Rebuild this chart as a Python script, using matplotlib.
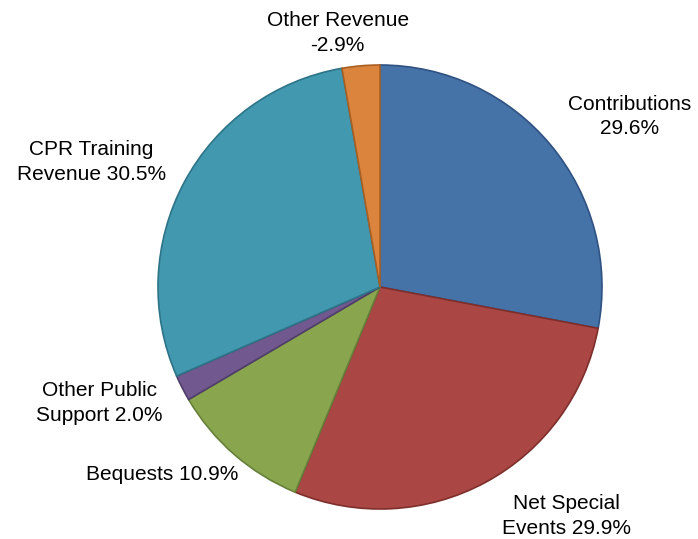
import matplotlib.pyplot as plt
import numpy as np

labels = ["Contributions\n29.6%", "Net Special\nEvents 29.9%", "Bequests 10.9%",
          "Other Public\nSupport 2.0%", "CPR Training\nRevenue 30.5%", "Other Revenue\n-2.9%"]
values = [29.6, 29.9, 10.9, 2.0, 30.5, -2.9]
colors = ["#4572A7", "#AA4643", "#89A54E", "#71588F", "#4198AF", "#DB843D"]
edges = ["#2F5283", "#7E2F2C", "#66803A", "#4F3D6A", "#2D7488", "#A95F22"]

# label placement: (radius factor, angle offset from wedge middle in degrees)
label_pos = [(1.362, -5.4), (1.329, 10.7), (1.296, -8.2),
             (1.369, -4.6), (1.418, 4.85), (1.160, 4.5)]

plt.rcParams["font.family"] = ["Liberation Sans", "DejaVu Sans"]

fig = plt.figure(figsize=(6.98, 5.39), dpi=100)
# center at (380, 287) px, radius 222 px
r_px = 222
ax = fig.add_axes([(380 - r_px) / 698, (539 - 287 - r_px) / 539, 2 * r_px / 698, 2 * r_px / 539])

sizes = np.abs(values)
wedges, _ = ax.pie(sizes, colors=colors, startangle=90, counterclock=False,
                   wedgeprops=dict(linewidth=1.2))
for w, ec in zip(wedges, edges):
    w.set_edgecolor(ec)

for w, lab, (rf, off) in zip(wedges, labels, label_pos):
    mid = np.deg2rad((w.theta1 + w.theta2) / 2 + off)
    ax.text(rf * np.cos(mid), rf * np.sin(mid), lab, ha="center", va="center",
            fontsize=15, multialignment="center", linespacing=1.35)

ax.set_xlim(-1, 1)
ax.set_ylim(-1, 1)
ax.set_aspect("equal")
ax.axis("off")
fig.savefig("out.png", dpi=100)
